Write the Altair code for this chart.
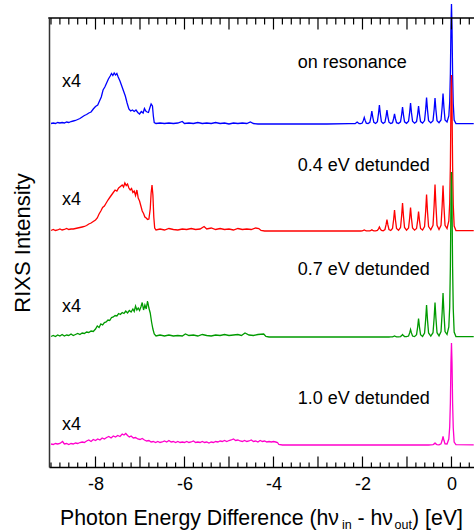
import altair as alt
import pandas as pd

# ---------------- data ----------------
# Low-energy part (already x4 as displayed): (energy eV, height above baseline)
blue_low = [(-9.00, 0.5), (-8.95, 1.0), (-8.90, 0.5), (-8.85, 1.5), (-8.80, 1.0), (-8.75, 1.5), (-8.70, 1.0),
            (-8.65, 2.0), (-8.60, 1.5), (-8.55, 2.5), (-8.50, 3.0), (-8.45, 3.5), (-8.40, 4.5), (-8.35, 5.5),
            (-8.30, 7.0), (-8.25, 8.5), (-8.20, 9.5), (-8.15, 11.0), (-8.10, 12.0), (-8.05, 15.0), (-8.00, 17.5),
            (-7.95, 19.0), (-7.91, 23.0), (-7.87, 27.0), (-7.83, 34.0), (-7.79, 37.0), (-7.75, 41.0), (-7.71, 45.0),
            (-7.67, 48.0), (-7.64, 50.5), (-7.61, 48.5), (-7.58, 51.0), (-7.55, 49.0), (-7.52, 50.5), (-7.49, 47.0),
            (-7.45, 43.0), (-7.41, 38.0), (-7.37, 33.0), (-7.33, 28.0), (-7.29, 21.0), (-7.25, 15.0), (-7.21, 13.0),
            (-7.17, 14.0), (-7.13, 12.5), (-7.09, 14.0), (-7.05, 11.5), (-7.01, 10.0), (-6.97, 12.5), (-6.93, 11.0),
            (-6.90, 15.5), (-6.87, 13.0), (-6.84, 12.0), (-6.81, 11.5), (-6.78, 16.0), (-6.75, 20.0), (-6.72, 18.0),
            (-6.70, 8.0), (-6.68, 1.5), (-6.64, 0.5),
            (-6.55, 1.0), (-6.45, 0.5), (-6.35, 1.0), (-6.25, 0.5), (-6.15, 1.0), (-6.05, 2.5), (-6.00, 0.5),
            (-5.90, 1.0), (-5.80, 0.5), (-5.70, 1.5), (-5.60, 0.5), (-5.50, 1.0), (-5.40, 0.5), (-5.30, 1.5),
            (-5.20, 0.5), (-5.10, 1.0), (-5.00, 0.0), (-4.90, 1.0), (-4.80, 0.5), (-4.70, 1.0), (-4.60, 0.5),
            (-4.52, 2.0), (-4.45, 0.5), (-4.35, 0.0), (-3.50, 0.0), (-2.80, 0.0)]

red_low = [(-9.00, 0.5), (-8.95, 1.5), (-8.90, 0.5), (-8.85, 1.0), (-8.80, 2.0), (-8.75, 1.0), (-8.70, 1.5),
           (-8.65, 2.5), (-8.60, 1.5), (-8.55, 2.0), (-8.50, 2.0), (-8.45, 2.5), (-8.40, 3.0), (-8.35, 3.5),
           (-8.30, 4.0), (-8.25, 4.5), (-8.20, 5.5), (-8.15, 7.0), (-8.10, 8.0), (-8.05, 9.5), (-8.00, 11.0),
           (-7.96, 13.0), (-7.92, 17.0), (-7.88, 20.0), (-7.84, 23.5), (-7.80, 25.0), (-7.76, 28.0), (-7.72, 31.0),
           (-7.68, 33.5), (-7.64, 36.0), (-7.60, 38.5), (-7.56, 41.0), (-7.52, 40.0), (-7.48, 43.0), (-7.44, 44.5),
           (-7.40, 46.0), (-7.37, 44.0), (-7.34, 48.0), (-7.31, 45.5), (-7.28, 47.0), (-7.25, 43.0), (-7.22, 41.0),
           (-7.19, 42.5), (-7.16, 38.5), (-7.13, 40.0), (-7.10, 35.5), (-7.07, 41.0), (-7.04, 33.0), (-7.01, 30.0),
           (-6.98, 25.0), (-6.95, 20.0), (-6.92, 17.5), (-6.89, 14.0), (-6.86, 13.0), (-6.83, 11.5), (-6.80, 12.0),
           (-6.77, 22.0), (-6.75, 38.0), (-6.73, 46.0), (-6.71, 36.0), (-6.69, 14.0), (-6.67, 3.0), (-6.64, 1.0),
           (-6.55, 2.0), (-6.45, 1.0), (-6.35, 2.5), (-6.25, 1.5), (-6.15, 1.0), (-6.05, 2.0), (-5.95, 1.5),
           (-5.85, 2.5), (-5.75, 1.5), (-5.65, 2.0), (-5.56, 4.5), (-5.50, 2.0), (-5.40, 3.0), (-5.30, 1.5),
           (-5.20, 2.5), (-5.10, 1.5), (-5.00, 2.0), (-4.90, 1.0), (-4.80, 2.5), (-4.70, 1.5), (-4.60, 2.0),
           (-4.50, 1.5), (-4.40, 3.0), (-4.33, 2.5), (-4.28, 0.5), (-4.20, 0.0), (-3.50, 0.0), (-2.80, 0.0)]

green_low = [(-9.00, 0.5), (-8.95, 1.5), (-8.90, 0.5), (-8.85, 2.0), (-8.80, 1.0), (-8.75, 2.5), (-8.70, 1.0),
             (-8.65, 2.0), (-8.60, 1.5), (-8.55, 3.0), (-8.50, 1.5), (-8.45, 2.5), (-8.40, 3.5), (-8.35, 2.5),
             (-8.30, 4.0), (-8.25, 3.5), (-8.20, 5.0), (-8.15, 4.5), (-8.10, 6.0), (-8.05, 5.5), (-8.00, 8.0),
             (-7.96, 11.0), (-7.92, 9.5), (-7.88, 13.0), (-7.84, 12.0), (-7.80, 14.5), (-7.76, 15.0), (-7.72, 17.0),
             (-7.68, 16.5), (-7.64, 19.5), (-7.60, 20.0), (-7.56, 21.5), (-7.52, 21.0), (-7.48, 23.5), (-7.44, 22.5),
             (-7.40, 24.5), (-7.36, 23.5), (-7.32, 26.0), (-7.28, 24.0), (-7.24, 26.5), (-7.20, 25.0), (-7.16, 28.0),
             (-7.13, 25.5), (-7.10, 31.0), (-7.07, 27.0), (-7.04, 29.0), (-7.01, 26.5), (-6.98, 30.0), (-6.95, 34.5),
             (-6.92, 27.0), (-6.89, 32.0), (-6.86, 28.0), (-6.83, 36.0), (-6.80, 29.0), (-6.77, 24.0), (-6.74, 15.0),
             (-6.71, 8.0), (-6.68, 3.0), (-6.64, 1.0),
             (-6.55, 2.0), (-6.45, 1.0), (-6.35, 2.0), (-6.25, 1.0), (-6.15, 1.5), (-6.05, 1.0), (-5.98, 3.0),
             (-5.90, 1.5), (-5.80, 2.0), (-5.70, 1.0), (-5.60, 2.5), (-5.50, 1.5), (-5.40, 1.0), (-5.30, 2.0),
             (-5.20, 1.5), (-5.10, 2.5), (-5.00, 1.5), (-4.90, 2.0), (-4.80, 2.5), (-4.72, 1.5), (-4.64, 4.0),
             (-4.55, 2.0), (-4.45, 1.5), (-4.35, 2.5), (-4.22, 3.0), (-4.17, 0.5), (-4.10, 0.0), (-3.50, 0.0),
             (-2.80, 0.0)]

magenta_low = [(-9.00, 1.0), (-8.95, 0.5), (-8.90, 1.5), (-8.85, 1.0), (-8.80, 1.5), (-8.74, 3.5), (-8.70, 1.0),
               (-8.65, 1.5), (-8.60, 0.5), (-8.55, 1.5), (-8.50, 1.0), (-8.45, 2.0), (-8.40, 1.5), (-8.35, 2.5),
               (-8.30, 3.0), (-8.25, 2.5), (-8.20, 4.0), (-8.15, 5.0), (-8.10, 3.5), (-8.05, 5.5), (-8.00, 4.5),
               (-7.95, 6.0), (-7.90, 5.0), (-7.85, 7.0), (-7.80, 6.0), (-7.75, 7.5), (-7.70, 8.5), (-7.65, 7.0),
               (-7.60, 9.0), (-7.55, 8.0), (-7.50, 9.5), (-7.45, 8.5), (-7.40, 11.0), (-7.36, 10.0), (-7.32, 11.5),
               (-7.28, 9.5), (-7.24, 8.0), (-7.20, 9.0), (-7.15, 7.0), (-7.10, 7.5), (-7.05, 6.0), (-7.00, 5.5),
               (-6.95, 6.5), (-6.90, 5.0), (-6.85, 4.0), (-6.80, 4.5), (-6.75, 3.0), (-6.70, 3.5), (-6.65, 2.5),
               (-6.60, 3.5), (-6.55, 2.5), (-6.50, 3.0), (-6.45, 4.0), (-6.40, 3.0), (-6.35, 4.5), (-6.30, 3.0),
               (-6.25, 3.5), (-6.20, 2.5), (-6.15, 3.5), (-6.10, 2.5), (-6.05, 3.0), (-6.00, 2.5), (-5.95, 3.5),
               (-5.90, 2.5), (-5.85, 3.0), (-5.80, 4.0), (-5.75, 2.5), (-5.70, 3.0), (-5.65, 2.5), (-5.60, 3.5),
               (-5.55, 2.5), (-5.50, 3.0), (-5.45, 2.0), (-5.40, 3.0), (-5.35, 2.5), (-5.30, 3.5), (-5.25, 3.0),
               (-5.20, 4.0), (-5.15, 3.5), (-5.10, 4.5), (-5.05, 3.5), (-5.00, 4.5), (-4.95, 5.0), (-4.90, 6.0),
               (-4.85, 4.5), (-4.80, 5.0), (-4.75, 4.0), (-4.70, 3.5), (-4.65, 4.5), (-4.60, 3.5), (-4.55, 4.0),
               (-4.50, 5.0), (-4.45, 3.5), (-4.40, 4.0), (-4.35, 3.0), (-4.30, 4.5), (-4.25, 3.5), (-4.20, 4.0),
               (-4.15, 3.0), (-4.10, 3.5), (-4.05, 3.0), (-4.00, 3.5), (-3.95, 3.0), (-3.91, 2.5), (-3.88, 0.5),
               (-3.80, 0.0), (-3.00, 0.0), (-2.80, 0.0)]

# Vibrational progression + elastic line: shared energy grid
vib_e = [-2.30,
         -2.165, -2.14, -2.12, -2.10, -2.075, -2.04,
         -2.005, -1.98, -1.96, -1.94, -1.915, -1.875,
         -1.835, -1.81, -1.79, -1.77, -1.745, -1.705,
         -1.665, -1.64, -1.62, -1.60, -1.575, -1.535,
         -1.495, -1.47, -1.45, -1.43, -1.405, -1.365,
         -1.325, -1.30, -1.28, -1.26, -1.235, -1.19,
         -1.145, -1.12, -1.10, -1.08, -1.055, -1.01,
         -0.965, -0.94, -0.92, -0.90, -0.875, -0.83,
         -0.785, -0.76, -0.74, -0.72, -0.695, -0.65,
         -0.605, -0.58, -0.56, -0.54, -0.515, -0.465,
         -0.415, -0.39, -0.37, -0.35, -0.325, -0.28,
         -0.235, -0.21, -0.19, -0.17, -0.145, -0.10,
         -0.06, -0.04, -0.025, -0.012, 0.0, 0.012, 0.025, 0.04, 0.06, 0.10,
         0.50]

blue_vib = [0.3,
            0.4, 1.2, 2.0, 1.2, 0.4, 0.3,
            0.9, 3.6, 6.5, 3.6, 0.9, 0.4,
            1.7, 7.2, 13.0, 7.2, 1.7, 0.5,
            2.4, 10.5, 19.0, 10.5, 2.4, 0.6,
            1.8, 7.7, 14.0, 7.7, 1.8, 0.5,
            1.3, 5.5, 10.0, 5.5, 1.3, 0.6,
            2.2, 9.4, 17.0, 9.4, 2.2, 0.7,
            2.7, 11.6, 21.0, 11.6, 2.7, 0.8,
            2.4, 9.9, 18.0, 9.9, 2.4, 0.9,
            3.4, 14.6, 26.5, 14.6, 3.4, 1.1,
            3.4, 14.3, 26.0, 14.3, 3.4, 1.3,
            4.0, 16.8, 30.5, 16.8, 4.0, 2.0,
            8.0, 22.0, 50.0, 96.0, 120.0, 96.0, 50.0, 20.0, 4.0, 0.5,
            0.3]

red_vib = [0.0,
           0.0, 0.0, 0.0, 0.0, 0.0, 0.0,
           0.2, 0.6, 1.0, 0.6, 0.2, 0.1,
           0.2, 0.7, 1.2, 0.7, 0.2, 0.2,
           0.6, 2.2, 4.0, 2.2, 0.6, 0.3,
           1.5, 6.3, 11.5, 6.3, 1.5, 0.5,
           2.6, 11.5, 21.0, 11.5, 2.6, 0.7,
           3.5, 15.4, 28.0, 15.4, 3.5, 0.8,
           3.0, 12.9, 23.5, 12.9, 3.0, 0.8,
           2.5, 10.7, 19.5, 10.7, 2.5, 1.0,
           4.5, 20.0, 36.5, 20.0, 4.5, 1.2,
           5.7, 25.6, 46.5, 25.6, 5.7, 1.5,
           5.6, 25.0, 45.5, 25.0, 5.6, 2.5,
           10.0, 28.0, 65.0, 125.0, 156.0, 125.0, 65.0, 26.0, 5.0, 0.5,
           0.3]

green_vib = [0.0,
             0.0, 0.0, 0.0, 0.0, 0.0, 0.0,
             0.0, 0.0, 0.0, 0.0, 0.0, 0.0,
             0.0, 0.0, 0.0, 0.0, 0.0, 0.0,
             0.0, 0.0, 0.0, 0.0, 0.0, 0.0,
             0.0, 0.0, 0.0, 0.0, 0.0, 0.1,
             0.2, 0.6, 1.0, 0.6, 0.2, 0.2,
             0.4, 1.4, 2.5, 1.4, 0.4, 0.3,
             1.0, 4.1, 7.5, 4.1, 1.0, 0.4,
             2.3, 10.2, 18.5, 10.2, 2.3, 0.6,
             4.0, 17.6, 32.0, 17.6, 4.0, 0.9,
             4.3, 19.0, 34.5, 19.0, 4.3, 1.2,
             5.4, 24.2, 44.0, 24.2, 5.4, 2.5,
             10.0, 30.0, 70.0, 132.0, 165.0, 132.0, 70.0, 28.0, 5.0, 0.5,
             0.3]

magenta_vib = [0.0,
               0.0, 0.0, 0.0, 0.0, 0.0, 0.0,
               0.0, 0.0, 0.0, 0.0, 0.0, 0.0,
               0.0, 0.0, 0.0, 0.0, 0.0, 0.0,
               0.0, 0.0, 0.0, 0.0, 0.0, 0.0,
               0.0, 0.0, 0.0, 0.0, 0.0, 0.0,
               0.0, 0.0, 0.0, 0.0, 0.0, 0.0,
               0.0, 0.0, 0.0, 0.0, 0.0, 0.0,
               0.0, 0.0, 0.0, 0.0, 0.0, 0.0,
               0.0, 0.0, 0.0, 0.0, 0.0, 0.0,
               0.0, 0.0, 0.0, 0.0, 0.0, 0.1,
               0.3, 1.1, 2.0, 1.1, 0.3, 0.2,
               1.1, 4.7, 8.5, 4.7, 1.1, 1.0,
               6.0, 18.0, 42.0, 82.0, 102.0, 82.0, 42.0, 17.0, 3.0, 0.4,
               0.2]

series_names = ["on resonance", "0.4 eV detunded", "0.7 eV detunded", "1.0 eV detunded"]
series_colors = ["#0000FF", "#FF0000", "#009A00", "#FF00CC"]
series_offsets = [343, 236, 130, 22]
series_low = [blue_low, red_low, green_low, magenta_low]
series_vib = [blue_vib, red_vib, green_vib, magenta_vib]

# annotation label positions (energy, intensity)
label_e = [-3.456, -3.456, -3.456, -3.456]
label_i = [399, 296, 192, 63]
x4_e = [-8.753, -8.753, -8.753, -8.753]
x4_i = [380, 262, 155, 37]

tick_major = [-8, -7, -6, -5, -4, -3, -2, -1, 0]
tick_minor = [-9.0, -8.8, -8.6, -8.4, -8.2, -7.8, -7.6, -7.4, -7.2, -6.8, -6.6, -6.4, -6.2,
              -5.8, -5.6, -5.4, -5.2, -4.8, -4.6, -4.4, -4.2, -3.8, -3.6, -3.4, -3.2,
              -2.8, -2.6, -2.4, -2.2, -1.8, -1.6, -1.4, -1.2, -0.8, -0.6, -0.4, -0.2, 0.2, 0.4]
tick_labels = [-8, -6, -4, -2, 0]

# ---------------- chart ----------------
W, H = 425, 449
FONT = "Liberation Sans"
xscale = alt.Scale(domain=[-9.045, 0.506], nice=False, zero=False)
yscale = alt.Scale(domain=[0, 449], nice=False, zero=False)

yaxis = alt.Axis(
    title="RIXS Intensity", labels=False, ticks=False, grid=False,
    domainColor="#333333", domainWidth=1.5,
    titleFontSize=22, titleFont=FONT, titleFontWeight="normal", titleColor="black",
    titleX=-27, titleY=H / 2, titleAngle=270, titleBaseline="middle", titleAlign="center")
xaxis = alt.Axis(
    values=tick_labels, ticks=False, tickSize=0, grid=False, title=None,
    labelFontSize=18, labelFont=FONT, labelColor="black", labelPadding=8,
    labelFlush=False, labelOverlap=False,
    labelExpr="datum.value < 0 ? '-' + abs(datum.value) : '' + datum.value",
    domainColor="black", domainWidth=1.5)

X = lambda: alt.X("E:Q", scale=xscale, axis=xaxis)
Y = lambda: alt.Y("I:Q", scale=yscale, axis=yaxis)

layers = []
for name, col, off, low, vib in zip(series_names, series_colors, series_offsets, series_low, series_vib):
    assert len(vib) == len(vib_e)
    E = [p[0] for p in low] + vib_e
    I = [off + p[1] for p in low] + [off + v for v in vib]
    df = pd.DataFrame({"E": E, "I": I, "series": name})
    layers.append(alt.Chart(df).mark_line(color=col, strokeWidth=1.3, clip=False).encode(
        x=X(), y=Y(), order="E:Q"))

lab_df = pd.DataFrame({"E": label_e + x4_e, "I": label_i + x4_i,
                       "text": series_names + ["x4"] * 4})
layers.append(alt.Chart(lab_df).mark_text(font=FONT, fontSize=18, align="left", baseline="alphabetic",
                                          color="black").encode(x=X(), y=Y(), text="text:N"))

maj_df = pd.DataFrame({"E": tick_major})
min_df = pd.DataFrame({"E": tick_minor})
for d, top_len, bot_len in [(maj_df, 11.5, 10.5), (min_df, 6.5, 4.5)]:
    layers.append(alt.Chart(d).mark_rule(color="black", strokeWidth=1.2).encode(
        x=X(), y=alt.value(0), y2=alt.value(top_len)))
    layers.append(alt.Chart(d).mark_rule(color="black", strokeWidth=1.2).encode(
        x=X(), y=alt.value(H), y2=alt.value(H - bot_len)))

# top frame line
one = pd.DataFrame({"a": [0]})
layers.append(alt.Chart(one).mark_rule(color="black", strokeWidth=1.5).encode(
    x=alt.value(-0.75), x2=alt.value(W), y=alt.value(0)))

# x-axis title with subscripts (pieces placed side by side)
MAIN, SUB = 21.3, 12.5
x0 = 11
pieces = [("Photon Energy Difference (h\u03bd", MAIN, 0.0, 507),
          ("in", SUB, 282.0, 511),
          ("- h\u03bd", MAIN, 297.5, 507),
          ("out", SUB, 334.5, 511),
          (") [eV]", MAIN, 352.0, 507)]
for txt, fs, dx, yy in pieces:
    layers.append(alt.Chart(one).mark_text(text=txt, font=FONT, fontSize=fs, align="left",
                                           baseline="alphabetic", color="black").encode(
        x=alt.value(x0 + dx), y=alt.value(yy)))

chart = alt.layer(*layers).properties(
    width=W, height=H,
    autosize=alt.AutoSizeParams(type="none"),
    padding={"left": 49, "top": 18, "right": 0, "bottom": 65},
    background="white",
).configure_view(stroke=None)

chart.save("out.html", embed_options={"renderer": "svg", "actions": False})
